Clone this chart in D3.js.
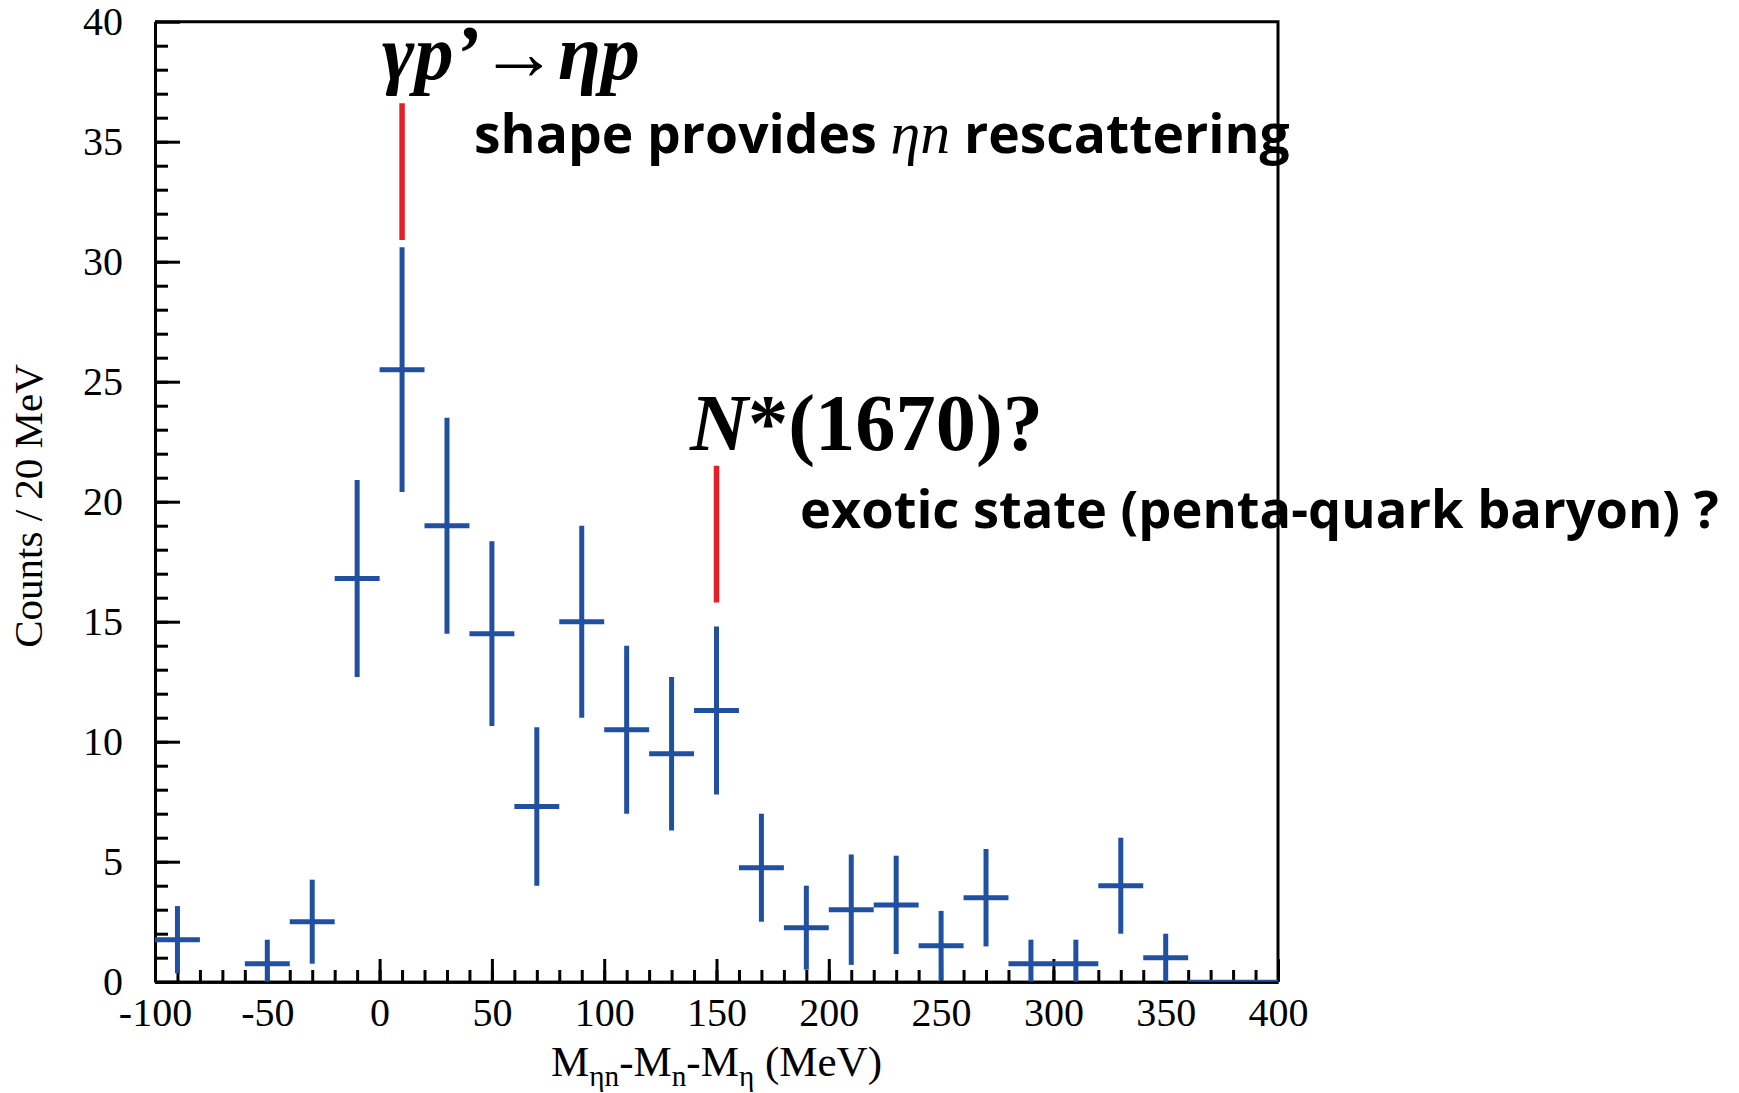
<!DOCTYPE html>
<html lang="en">

<head>
    <meta charset="UTF-8">
    <title>eta n invariant mass</title>
    <style>
        body {
            margin: 0;
            background: #fff;
        }

        .axis path,
        .axis line {
            fill: none;
            stroke: black;
            stroke-width: 3px;
        }

        .axis text {
            font-family: "Liberation Serif", "DejaVu Serif", serif;
            font-size: 40px;
            fill: black;
        }

        .note {
            font-family: "Open Sans", "Lato", sans-serif;
            font-weight: 700;
            fill: black;
        }

        .math {
            font-family: "Liberation Serif", "DejaVu Serif", serif;
            font-weight: 700;
            fill: black;
        }

        .title {
            font-family: "Liberation Serif", "DejaVu Serif", serif;
            font-weight: 400;
            fill: black;
        }
    </style>
</head>

<body>
    <script src="https://d3js.org/d3.v7.min.js"></script>
    <script>
        const width = 1739;
        const height = 1093;
        // plot frame in pixels
        const frame = { left: 155, right: 1278, top: 21.7, bottom: 981.7 };

        // bin centres (MeV), counts per 20 MeV and their errors
        const binCenters = [-90, -50, -30, -10, 10, 30, 50, 70, 90, 110, 130, 150, 170, 190, 210, 230, 250, 270, 290, 310, 330, 350, 370, 390];
        const counts = [1.75, 0.75, 2.5, 16.8, 25.5, 19.0, 14.5, 7.3, 15.0, 10.5, 9.5, 11.3, 4.75, 2.25, 3.0, 3.2, 1.5, 3.5, 0.75, 0.75, 4.0, 1.0, 0, 0];
        const errors = [1.4, 1.0, 1.75, 4.1, 5.1, 4.5, 3.85, 3.3, 4.0, 3.5, 3.2, 3.5, 2.25, 1.75, 2.3, 2.05, 1.45, 2.03, 1.0, 1.0, 2.0, 1.0, 0, 0];
        const binWidth = 20;

        // red marker lines: position and y extent
        const markerX = [10, 150];
        const markerLow = [30.9, 15.8];
        const markerHigh = [36.6, 21.5];

        const xTicks = [-100, -50, 0, 50, 100, 150, 200, 250, 300, 350, 400];
        const yTicks = [0, 5, 10, 15, 20, 25, 30, 35, 40];

        const blue = '#2150a0';
        const red = '#e51f26';

        const xScale = d3.scaleLinear().domain([-100, 400]).range([frame.left, frame.right]);
        const yScale = d3.scaleLinear().domain([0, 40]).range([frame.bottom, frame.top]);

        const svg = d3.select('body').append('svg').attr('width', width).attr('height', height);

        // minor ticks first, majors on top
        svg.append('g')
            .attr('class', 'axis')
            .attr('transform', 'translate(0,' + frame.bottom + ')')
            .call(d3.axisBottom(xScale).tickValues(d3.range(-90, 400, 10)).tickSizeInner(-11.7).tickSizeOuter(0).tickFormat(''));
        svg.append('g')
            .attr('class', 'axis')
            .attr('transform', 'translate(' + frame.left + ',0)')
            .call(d3.axisLeft(yScale).tickValues(d3.range(1, 40, 1)).tickSizeInner(-13).tickSizeOuter(0).tickFormat(''));

        // plain hyphen for negatives, like the original
        const plain = d => String(d);
        svg.append('g')
            .attr('class', 'axis')
            .attr('transform', 'translate(0,' + frame.bottom + ')')
            .call(d3.axisBottom(xScale).tickValues(xTicks).tickSizeInner(-22.7).tickSizeOuter(0).tickPadding(16).tickFormat(plain));
        svg.append('g')
            .attr('class', 'axis')
            .attr('transform', 'translate(' + frame.left + ',0)')
            .call(d3.axisLeft(yScale).tickValues(yTicks).tickSizeInner(-25).tickSizeOuter(0).tickPadding(32).tickFormat(plain));

        // top and right border of the box
        svg.append('path')
            .attr('d', 'M' + frame.left + ',' + frame.top + 'H' + frame.right + 'V' + frame.bottom)
            .attr('fill', 'none')
            .attr('stroke', 'black')
            .attr('stroke-width', 3);

        // data crosses
        const pts = binCenters.map((c, i) => ({ x: c, y: counts[i], e: errors[i] }));
        const cross = svg.append('g').attr('stroke', blue).attr('stroke-width', 5);
        cross.selectAll('line.h')
            .data(pts)
            .enter()
            .append('line')
            .attr('class', 'h')
            .attr('x1', d => xScale(d.x - binWidth / 2))
            .attr('x2', d => xScale(d.x + binWidth / 2))
            .attr('y1', d => d.y === 0 ? yScale(0) - 1 : yScale(d.y))
            .attr('y2', d => d.y === 0 ? yScale(0) - 1 : yScale(d.y))
            .attr('stroke-width', d => d.y === 0 ? 2 : 5);
        cross.selectAll('line.v')
            .data(pts.filter(d => d.e > 0))
            .enter()
            .append('line')
            .attr('class', 'v')
            .attr('x1', d => xScale(d.x))
            .attr('x2', d => xScale(d.x))
            .attr('y1', d => yScale(Math.max(0, d.y - d.e)))
            .attr('y2', d => yScale(d.y + d.e));

        // red markers
        svg.selectAll('line.marker')
            .data(markerX)
            .enter()
            .append('line')
            .attr('class', 'marker')
            .attr('x1', d => xScale(d))
            .attr('x2', d => xScale(d))
            .attr('y1', (d, i) => yScale(markerLow[i]))
            .attr('y2', (d, i) => yScale(markerHigh[i]))
            .attr('stroke', red)
            .attr('stroke-width', 5.5);

        // scale a text element so it spans from x0 to x1
        function fit(t, x0, x1, base) {
            t.attr('font-size', base);
            const w = t.node().getComputedTextLength();
            t.attr('font-size', base * (x1 - x0) / w);
        }

        // reaction label
        const t1 = svg.append('text').attr('class', 'math').attr('x', 382).attr('y', 79).style('font-style', 'italic');
        t1.append('tspan').text('γp’');
        t1.append('tspan').style('font-style', 'normal').text('→');
        t1.append('tspan').text('ηp');
        fit(t1, 382, 640, 50);

        const t2 = svg.append('text').attr('class', 'note').attr('x', 474).attr('y', 153);
        t2.append('tspan').text('shape provides ');
        t2.append('tspan')
            .style('font-family', '"Liberation Serif", serif')
            .style('font-style', 'italic')
            .style('font-weight', 400)
            .attr('font-size', '1.12em')
            .text('ηn');
        t2.append('tspan').text(' rescattering');
        fit(t2, 474, 1290, 44);

        const t3 = svg.append('text').attr('class', 'math').attr('x', 690).attr('y', 450);
        t3.append('tspan').style('font-style', 'italic').text('N');
        t3.append('tspan').text('*(1670)?');
        fit(t3, 690, 1043, 60);

        const t4 = svg.append('text').attr('class', 'note').attr('x', 800).attr('y', 528);
        t4.text('exotic state (penta-quark baryon) ?');
        fit(t4, 800, 1719, 44);

        // axis titles
        svg.append('text')
            .attr('class', 'title')
            .attr('font-size', 41)
            .attr('text-anchor', 'middle')
            .attr('transform', 'translate(42,506) rotate(-90)')
            .text('Counts / 20 MeV');

        const xl = svg.append('text').attr('class', 'title').attr('x', 551).attr('y', 1076);
        xl.append('tspan').text('M');
        xl.append('tspan').attr('font-size', '0.68em').attr('dy', 10).text('ηn');
        xl.append('tspan').attr('dy', -10).text('-M');
        xl.append('tspan').attr('font-size', '0.68em').attr('dy', 10).text('n');
        xl.append('tspan').attr('dy', -10).text('-M');
        xl.append('tspan').attr('font-size', '0.68em').attr('dy', 10).text('η');
        xl.append('tspan').attr('dy', -10).text(' (MeV)');
        fit(xl, 551, 882, 40);
    </script>
</body>

</html>
